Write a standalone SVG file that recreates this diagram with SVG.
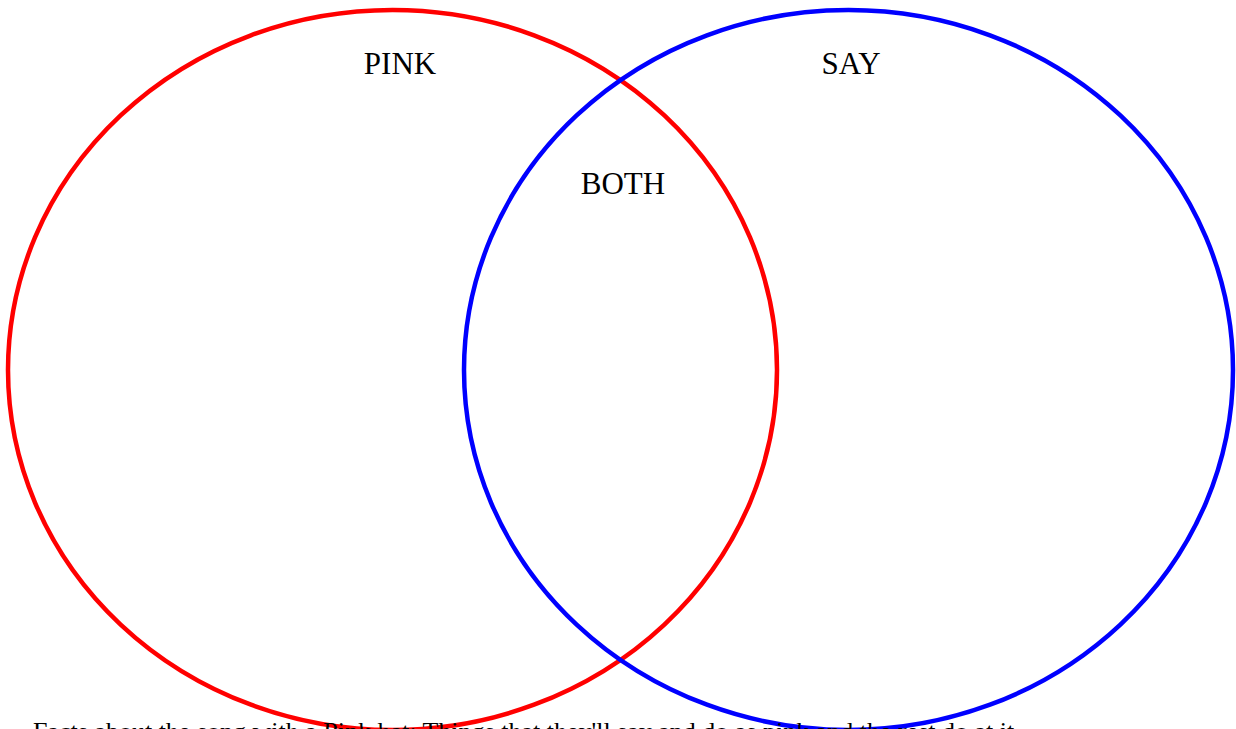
<svg xmlns="http://www.w3.org/2000/svg" width="1236" height="729" viewBox="0 0 1236 729">
<style>
.lbl{font-family:"Liberation Serif","Times New Roman",serif;font-size:31px;fill:#000;text-anchor:middle}
.cap{font-family:"Liberation Serif","Times New Roman",serif;font-size:26px;fill:#000}
.c{fill:none;stroke-width:4.5}
</style>
<rect width="1236" height="729" fill="#fff"/>
<g id="pink">
<ellipse class="c" cx="392.5" cy="370" rx="384.5" ry="360" stroke="#ff0000"/>
<text class="lbl" x="400" y="74">PINK</text>
</g>
<g id="say">
<ellipse class="c" cx="848.5" cy="370" rx="384.5" ry="360" stroke="#0000ff"/>
<text class="lbl" x="851" y="74">SAY</text>
</g>
<g id="both">
<text class="lbl" x="623" y="194">BOTH</text>
</g>
<g id="connectors"></g>
<text class="cap" x="33" y="740">Facts about the song with a Pink hat: Things that they'll say and do as pink and the rest do at it</text>
</svg>
